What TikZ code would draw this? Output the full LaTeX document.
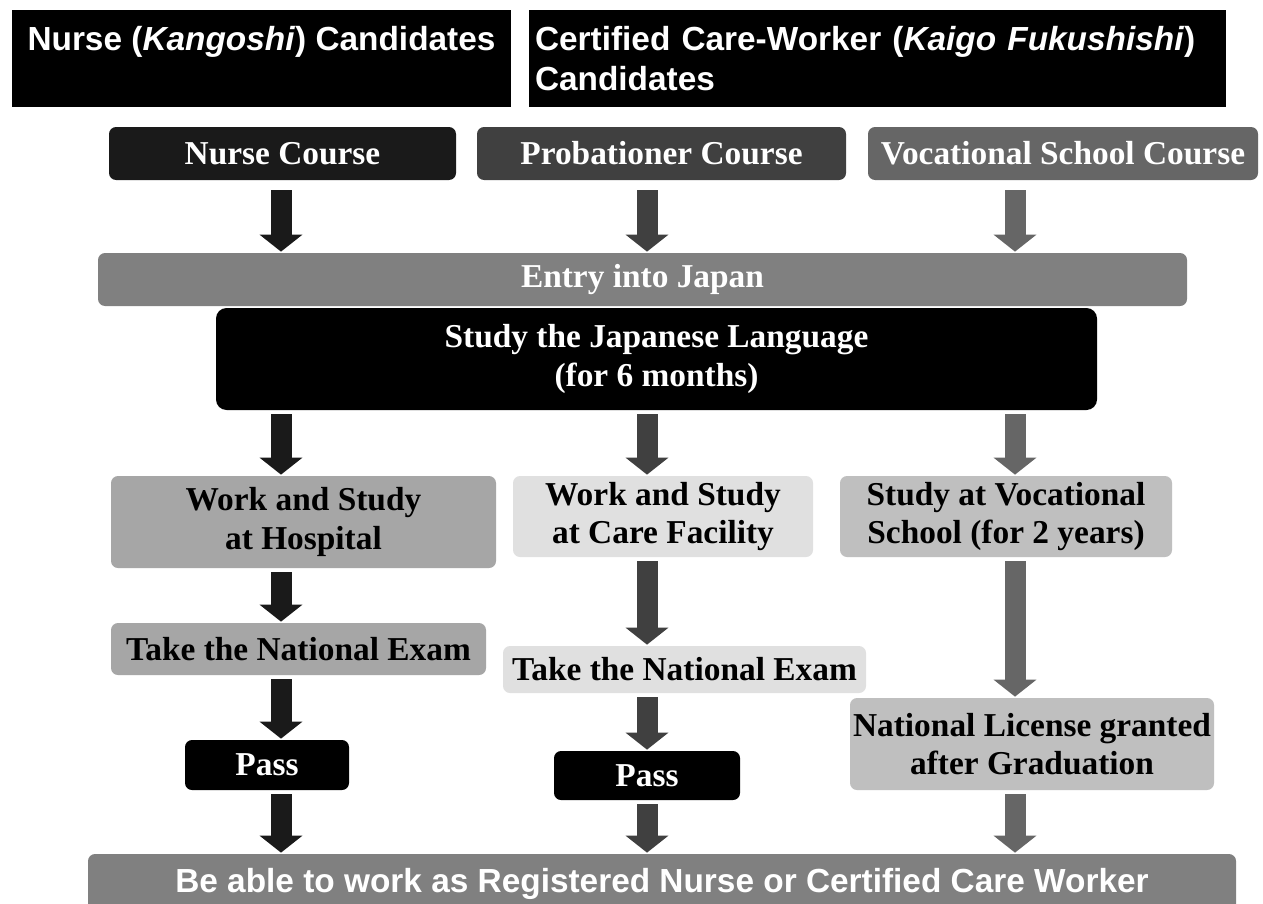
\documentclass[tikz,border=0pt]{standalone}
\usepackage{fontspec}
\setmainfont{Liberation Serif}
\setsansfont{Liberation Sans}
\usetikzlibrary{arrows.meta}
\definecolor{shadeA}{HTML}{1A1A1A}
\definecolor{shadeB}{HTML}{404040}
\definecolor{shadeC}{HTML}{666666}
\definecolor{grayE}{HTML}{808080}
\definecolor{grayH}{HTML}{A6A6A6}
\definecolor{grayM}{HTML}{BFBFBF}
\definecolor{grayL}{HTML}{E0E0E0}
\newcommand{\px}{0.02cm}

\begin{document}
\begin{tikzpicture}
[x=0.02cm,y=-0.02cm,
 hdr/.style={fill=black,text=white,inner sep=0pt,minimum height=97*\px,
   font=\sffamily\bfseries\fontsize{19}{22.7}\selectfont},
 course/.style={fill=#1,text=white,rounded corners=4pt,inner sep=0pt,
   minimum height=53*\px,font=\bfseries\fontsize{19}{22}\selectfont},
 stage/.style={fill=#1,rounded corners=4pt,inner sep=0pt,align=center,
   font=\bfseries\fontsize{19}{22}\selectfont},
 flow/.style={draw=#1,line width=0.42cm,shorten <=0.08cm,shorten >=0.02cm,
   -{Triangle[width=0.84cm,length=0.34cm]}}]
  \fill[white] (0,0) rectangle (1263,903);
  \clip (0,0) rectangle (1263,903);
  \coordinate (colA) at (281,0);
  \coordinate (colB) at (647,0);
  \coordinate (colC) at (1015,0);
%
  \node[hdr,minimum width=499*\px,align=center] (hNurse) at (261.5,58.5)
    {Nurse (\textit{Kangoshi}) Candidates\\\mbox{}};
  \node[hdr,minimum width=697*\px,text width=685*\px,inner xsep=6*\px,align=left] (hCare) at (877.5,58.5)
    {Certified Care-Worker (\textit{Kaigo Fukushishi})\\Candidates};
%
  \node[course=shadeA,minimum width=347*\px] (nurse) at (282.5,153.5) {Nurse Course};
  \node[course=shadeB,minimum width=369*\px] (prob) at (661.5,153.5) {Probationer Course};
  \node[course=shadeC,minimum width=390*\px] (vocC) at (1063,153.5) {Vocational School Course};
%
  \node[stage=grayE,text=white,minimum width=1089*\px,minimum height=53*\px] (entry) at (642.5,279.5) {Entry into Japan};
  \node[stage=black,text=white,rounded corners=6pt,minimum width=881*\px,minimum height=102*\px] (study) at (656.5,359)
    {Study the Japanese Language\\(for 6 months)};
%
  \node[stage=grayH,minimum width=385*\px,minimum height=92*\px] (hosp) at (303.5,522) {Work and Study\\at Hospital};
  \node[stage=grayL,minimum width=300*\px,minimum height=81*\px] (care) at (663,516.5) {Work and Study\\at Care Facility};
  \node[stage=grayM,minimum width=332*\px,minimum height=81*\px] (voc) at (1006,516.5) {Study at Vocational\\School (for 2 years)};
%
  \node[stage=grayH,minimum width=375*\px,minimum height=52*\px] (examA) at (298.5,649) {Take the National Exam};
  \node[stage=grayL,minimum width=363*\px,minimum height=47*\px] (examB) at (684.5,669.5) {Take the National Exam};
  \node[stage=grayM,minimum width=364*\px,minimum height=92*\px] (license) at (1032,744) {National License granted\\after Graduation};
%
  \node[stage=black,text=white,minimum width=164*\px,minimum height=50*\px] (passA) at (267,765) {Pass};
  \node[stage=black,text=white,minimum width=186*\px,minimum height=49*\px] (passB) at (647,775.5) {Pass};
%
  \node[stage=grayE,text=white,minimum width=1148*\px,minimum height=60*\px,
    font=\sffamily\bfseries\fontsize{19}{22}\selectfont] (final) at (662,884)
    {Be able to work as Registered Nurse or Certified Care Worker};
%
  \draw[flow=shadeA,shorten <=0.2cm] (nurse.south -| colA) -- (entry.north -| colA);
  \draw[flow=shadeB,shorten <=0.2cm] (prob.south -| colB) -- (entry.north -| colB);
  \draw[flow=shadeC,shorten <=0.2cm] (vocC.south -| colC) -- (entry.north -| colC);
%
  \draw[flow=shadeA] (study.south -| colA) -- (hosp.north -| colA);
  \draw[flow=shadeB] (study.south -| colB) -- (care.north -| colB);
  \draw[flow=shadeC] (study.south -| colC) -- (voc.north -| colC);
%
  \draw[flow=shadeA] (hosp.south -| colA) -- (examA.north -| colA);
  \draw[flow=shadeB] (care.south -| colB) -- (examB.north -| colB);
  \draw[flow=shadeC] (voc.south -| colC) -- (license.north -| colC);
%
  \draw[flow=shadeA] (examA.south -| colA) -- (passA.north -| colA);
  \draw[flow=shadeB] (examB.south -| colB) -- (passB.north -| colB);
%
  \draw[flow=shadeA] (passA.south -| colA) -- (final.north -| colA);
  \draw[flow=shadeB] (passB.south -| colB) -- (final.north -| colB);
  \draw[flow=shadeC] (license.south -| colC) -- (final.north -| colC);
\end{tikzpicture}
\end{document}
